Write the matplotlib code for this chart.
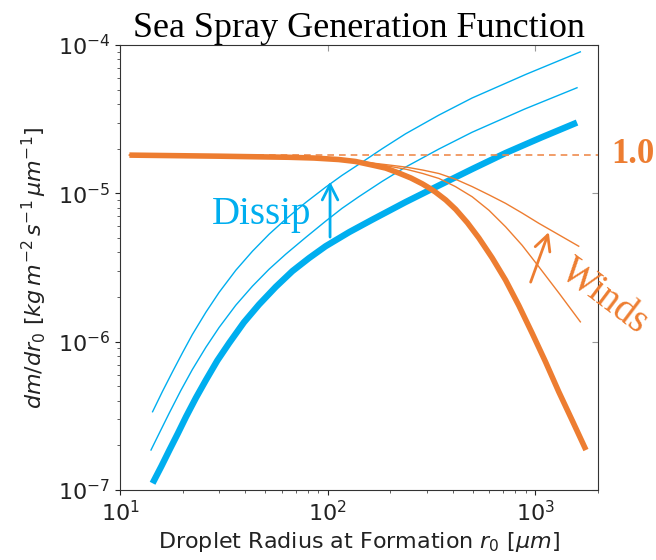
import matplotlib
matplotlib.use("Agg")
import matplotlib.pyplot as plt
from matplotlib.ticker import NullLocator

# ---- data: droplet radius r0 [um] and mass generation dm/dr0 ----
# Dissipation-limited curves (blue): base, and two higher dissipation rates
r_dissip_base = [14.35, 15.8, 17.3, 19.0, 20.8, 23.2, 25.9, 29.4, 33.5, 39.5, 46.7, 56.2,
                 67.6, 81.3, 97.7, 127, 164, 237, 343, 497, 718, 1067, 1585]
m_dissip_base = [1.11e-7, 1.44e-7, 1.86e-7, 2.41e-7, 3.12e-7, 4.18e-7, 5.50e-7, 7.45e-7,
                 9.77e-7, 1.35e-6, 1.78e-6, 2.34e-6, 2.99e-6, 3.66e-6, 4.40e-6, 5.48e-6,
                 6.65e-6, 8.73e-6, 1.13e-5, 1.46e-5, 1.87e-5, 2.38e-5, 3.0e-5]

r_dissip_mid = [14.1, 15.6, 17.26, 19.6, 22.3, 25.9, 30.0, 36.1, 43.4, 52.2, 62.8, 78.3,
                97.7, 117, 141, 183, 237, 343, 495, 887, 1585]
m_dissip_mid = [1.86e-7, 2.48e-7, 3.30e-7, 4.67e-7, 6.49e-7, 9.16e-7, 1.247e-6, 1.762e-6,
                2.366e-6, 3.08e-6, 3.89e-6, 5.04e-6, 6.49e-6, 7.91e-6, 9.48e-6, 1.205e-5,
                1.503e-5, 1.99e-5, 2.58e-5, 3.70e-5, 5.15e-5]

r_dissip_high = [14.35, 16.0, 17.9, 20.0, 22.3, 25.9, 30.0, 36.1, 43.4, 52.2, 62.8, 78.3,
                 97.7, 117, 141, 183, 237, 343, 495, 902, 1644]
m_dissip_high = [3.37e-7, 4.61e-7, 6.27e-7, 8.43e-7, 1.117e-6, 1.578e-6, 2.15e-6, 3.03e-6,
                 4.07e-6, 5.30e-6, 6.70e-6, 8.67e-6, 1.10e-5, 1.32e-5, 1.567e-5, 2.0e-5,
                 2.52e-5, 3.37e-5, 4.39e-5, 6.35e-5, 8.99e-5]

# Wind-limited curves (orange): base, and two higher wind speeds
r_wind_base = [11.1, 30, 65, 85.7, 113, 136, 164, 190, 220, 251, 285, 307, 330, 370, 413,
               470, 534, 619, 718, 832, 964, 1117, 1294, 1507, 1750]
m_wind_base = [1.81e-5, 1.78e-5, 1.75e-5, 1.73e-5, 1.69e-5, 1.64e-5, 1.55e-5, 1.48e-5,
               1.37e-5, 1.27e-5, 1.16e-5, 1.09e-5, 1.02e-5, 9.02e-6, 7.80e-6, 6.34e-6,
               5.0e-6, 3.67e-6, 2.60e-6, 1.75e-6, 1.14e-6, 7.33e-7, 4.60e-7, 2.92e-7, 1.86e-7]

r_wind_mid = [11.1, 113, 136, 164, 199, 240, 287, 343, 412, 496, 597, 718, 863, 1038,
              1306, 1645]
m_wind_mid = [1.81e-5, 1.70e-5, 1.65e-5, 1.59e-5, 1.52e-5, 1.45e-5, 1.36e-5, 1.26e-5,
              1.11e-5, 9.48e-6, 7.69e-6, 5.95e-6, 4.46e-6, 3.2e-6, 2.10e-6, 1.36e-6]

r_wind_high = [11.1, 113, 136, 164, 199, 240, 287, 343, 412, 496, 597, 718, 863, 1038,
               1294, 1615]
m_wind_high = [1.81e-5, 1.70e-5, 1.65e-5, 1.60e-5, 1.55e-5, 1.50e-5, 1.435e-5, 1.36e-5,
               1.245e-5, 1.11e-5, 9.77e-6, 8.56e-6, 7.36e-6, 6.28e-6, 5.26e-6, 4.40e-6]

# Reference level (ratio 1.0)
r_ref = [11.1, 2000]
m_ref = [1.82e-5, 1.82e-5]

BLUE = "#00AEEF"
ORANGE = "#ED7D31"
SERIF = ["Liberation Serif", "DejaVu Serif"]

fig = plt.figure(figsize=(6.56, 5.60), dpi=100)
ax = fig.add_axes([120 / 656, 70 / 560, 478 / 656, 445 / 560])

ax.plot(r_dissip_high, m_dissip_high, color=BLUE, lw=1.0)
ax.plot(r_dissip_mid, m_dissip_mid, color=BLUE, lw=1.0)
ax.plot(r_dissip_base, m_dissip_base, color=BLUE, lw=4.6, solid_capstyle="butt")

ax.plot(r_ref, m_ref, color="#EF8C4F", lw=1.2, dashes=(4, 3))
ax.plot(r_wind_high, m_wind_high, color=ORANGE, lw=1.0)
ax.plot(r_wind_mid, m_wind_mid, color=ORANGE, lw=1.0)
ax.plot(r_wind_base, m_wind_base, color=ORANGE, lw=4.0, solid_capstyle="butt")

ax.set_xscale("log")
ax.set_yscale("log")
ax.set_xlim(10, 2000)
ax.set_ylim(1e-7, 1e-4)

ax.tick_params(axis="both", which="major", labelsize=16, colors="#222222")
ax.tick_params(axis="both", which="minor", colors="#444444")
for s in ax.spines.values():
    s.set_color("#333333")

# faint inward major ticks on the top and right edges
secx = ax.secondary_xaxis("top")
secx.xaxis.set_minor_locator(NullLocator())
secx.tick_params(direction="in", labeltop=False, length=4, color="#999999")
secx.spines["top"].set_visible(False)
secy = ax.secondary_yaxis("right")
secy.yaxis.set_minor_locator(NullLocator())
secy.tick_params(direction="in", labelright=False, length=4, color="#999999")
secy.spines["right"].set_visible(False)

ax.set_xlabel(r"Droplet Radius at Formation $r_0$ [$\mu m$]", fontsize=16, color="#222222")
ax.set_ylabel(r"$dm/dr_0\ [kg\,m^{-2}\,s^{-1}\,\mu m^{-1}]$", fontsize=16, color="#222222",
              labelpad=6)
ax.set_title("Sea Spray Generation Function", family=SERIF, fontsize=26, pad=5)

# annotations
ax.text(27.8, 6.2e-6, "Dissip", family=SERIF, fontsize=28, color=BLUE,
        ha="left", va="baseline")
ax.annotate("", xy=(102.6, 1.2e-5), xytext=(102.6, 5.07e-6),
            arrowprops=dict(arrowstyle="->,head_length=0.55,head_width=0.28",
                            color=BLUE, lw=2.0, mutation_scale=20,
                            shrinkA=0, shrinkB=0))

ax.text(2329, 1.82e-5, "1.0", family=SERIF, fontsize=25, fontweight="bold",
        color=ORANGE, ha="left", va="center", clip_on=False)

ax.text(2140, 2.0e-6, "Winds", family=SERIF, fontsize=28, color=ORANGE,
        rotation=-37, ha="center", va="center", rotation_mode="anchor",
        clip_on=False)
ax.annotate("", xy=(1159, 5.48e-6), xytext=(948, 2.52e-6),
            arrowprops=dict(arrowstyle="->,head_length=0.55,head_width=0.28",
                            color=ORANGE, lw=2.0, mutation_scale=20,
                            shrinkA=0, shrinkB=0))

fig.savefig("out.png", dpi=100, facecolor="white")
